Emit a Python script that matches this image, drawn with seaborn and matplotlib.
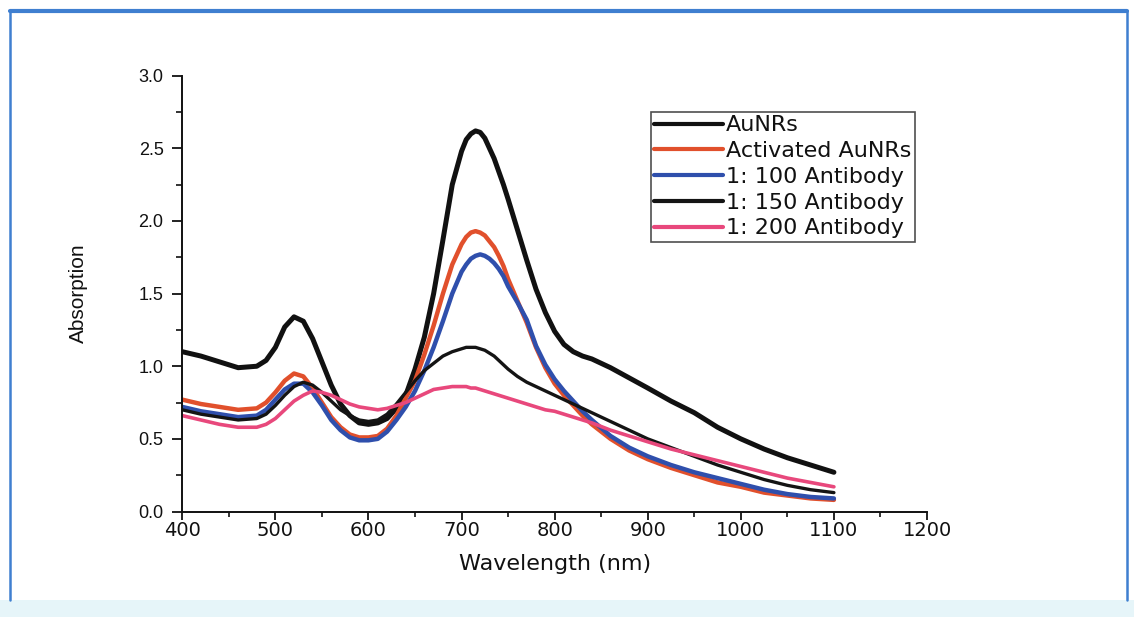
import matplotlib
matplotlib.use("Agg")
import matplotlib.pyplot as plt
from matplotlib.ticker import MultipleLocator
from matplotlib.patches import Rectangle
from matplotlib.lines import Line2D
import seaborn as sns
import pandas as pd

# ---- data ----
wavelength = [400, 420, 440, 460, 480, 490, 500, 510, 520, 530, 540, 550, 560, 570, 580, 590,
              600, 610, 620, 630, 640, 650, 660, 670, 680, 690, 700, 705, 710, 715, 720, 725,
              730, 735, 740, 745, 750, 760, 770, 780, 790, 800, 810, 820, 830, 840, 860, 880,
              900, 925, 950, 975, 1000, 1025, 1050, 1075, 1100]

aunrs = [1.10, 1.07, 1.03, 0.99, 1.00, 1.04, 1.13, 1.27, 1.34, 1.31, 1.19, 1.03, 0.87, 0.74, 0.66, 0.61,
         0.60, 0.61, 0.64, 0.71, 0.80, 0.98, 1.20, 1.50, 1.87, 2.25, 2.48, 2.56, 2.60, 2.62, 2.61, 2.57,
         2.50, 2.43, 2.34, 2.25, 2.15, 1.94, 1.73, 1.53, 1.37, 1.24, 1.15, 1.10, 1.07, 1.05, 0.99, 0.92,
         0.85, 0.76, 0.68, 0.58, 0.50, 0.43, 0.37, 0.32, 0.27]

activated = [0.77, 0.74, 0.72, 0.70, 0.71, 0.75, 0.82, 0.90, 0.95, 0.93, 0.85, 0.75, 0.65, 0.58, 0.53, 0.51,
             0.51, 0.52, 0.57, 0.66, 0.78, 0.90, 1.08, 1.28, 1.50, 1.70, 1.84, 1.89, 1.92, 1.93, 1.92, 1.90,
             1.86, 1.82, 1.76, 1.69, 1.60, 1.45, 1.30, 1.13, 0.99, 0.88, 0.80, 0.73, 0.66, 0.60, 0.50, 0.42,
             0.36, 0.30, 0.25, 0.20, 0.17, 0.13, 0.11, 0.09, 0.08]

ab_100 = [0.72, 0.69, 0.67, 0.65, 0.66, 0.70, 0.77, 0.84, 0.88, 0.88, 0.82, 0.73, 0.63, 0.56, 0.51, 0.49,
          0.49, 0.50, 0.55, 0.63, 0.72, 0.83, 0.97, 1.13, 1.31, 1.50, 1.65, 1.70, 1.74, 1.76, 1.77, 1.76,
          1.74, 1.71, 1.67, 1.62, 1.55, 1.44, 1.32, 1.14, 1.01, 0.91, 0.83, 0.76, 0.69, 0.63, 0.52, 0.44,
          0.38, 0.32, 0.27, 0.23, 0.19, 0.15, 0.12, 0.10, 0.09]

ab_150 = [0.70, 0.67, 0.65, 0.63, 0.64, 0.67, 0.73, 0.80, 0.86, 0.89, 0.87, 0.82, 0.76, 0.70, 0.66, 0.63,
          0.62, 0.63, 0.67, 0.74, 0.82, 0.90, 0.97, 1.02, 1.07, 1.10, 1.12, 1.13, 1.13, 1.13, 1.12, 1.11,
          1.09, 1.07, 1.04, 1.01, 0.98, 0.93, 0.89, 0.86, 0.83, 0.80, 0.77, 0.74, 0.71, 0.68, 0.62, 0.56,
          0.50, 0.44, 0.38, 0.32, 0.27, 0.22, 0.18, 0.15, 0.13]

ab_200 = [0.66, 0.63, 0.60, 0.58, 0.58, 0.60, 0.64, 0.70, 0.76, 0.80, 0.83, 0.82, 0.80, 0.77, 0.74, 0.72,
          0.71, 0.70, 0.71, 0.73, 0.75, 0.78, 0.81, 0.84, 0.85, 0.86, 0.86, 0.86, 0.85, 0.85, 0.84, 0.83,
          0.82, 0.81, 0.80, 0.79, 0.78, 0.76, 0.74, 0.72, 0.70, 0.69, 0.67, 0.65, 0.63, 0.61, 0.56, 0.52,
          0.48, 0.43, 0.39, 0.35, 0.31, 0.27, 0.23, 0.20, 0.17]

labels = ["AuNRs", "Activated AuNRs", "1: 100 Antibody", "1: 150 Antibody", "1: 200 Antibody"]
series = [aunrs, activated, ab_100, ab_150, ab_200]
colors = ["#111111", "#e1502c", "#2f4fac", "#141414", "#e8487c"]
widths = [3.6, 3.2, 3.2, 2.4, 2.6]

sns.set_style("ticks")
plt.rcParams["font.family"] = ["DejaVu Sans"]

fig, ax = plt.subplots(figsize=(11.34, 6.17), dpi=100)
fig.patch.set_facecolor("white")
ax.set_position([182.3 / 1134, 1 - 511.5 / 617, (927.0 - 182.3) / 1134, (511.5 - 75.7) / 617])

for lab, ys, c, w in zip(labels, series, colors, widths):
    df = pd.DataFrame({"Wavelength": wavelength, "Absorption": ys})
    sns.lineplot(data=df, x="Wavelength", y="Absorption", ax=ax, color=c,
                 linewidth=w, label=lab, legend=False)

ax.set_xlim(400, 1200)
ax.set_ylim(0, 3.0)
ax.set_xticks(range(400, 1201, 100))
ax.set_yticks([0.0, 0.5, 1.0, 1.5, 2.0, 2.5, 3.0])
ax.set_yticklabels(["0.0", "0.5", "1.0", "1.5", "2.0", "2.5", "3.0"])
ax.xaxis.set_minor_locator(MultipleLocator(50))
ax.yaxis.set_minor_locator(MultipleLocator(0.25))

for s in ["top", "right"]:
    ax.spines[s].set_visible(False)
for s in ["left", "bottom"]:
    ax.spines[s].set_linewidth(1.4)
    ax.spines[s].set_color("#111111")

ax.tick_params(axis="x", which="major", direction="out", length=6, width=1.3,
               labelsize=14, pad=1, colors="#111111")
ax.tick_params(axis="x", which="minor", direction="out", length=3.5, width=1.2, colors="#111111")
ax.tick_params(axis="y", which="major", direction="out", length=7.5, width=1.3,
               labelsize=13, pad=6, colors="#111111")
ax.tick_params(axis="y", which="minor", direction="out", length=4.5, width=1.2, colors="#111111")
for t in ax.get_yticklabels():
    t.set_fontfamily("Liberation Sans")

ax.set_xlabel("Wavelength (nm)", fontsize=16, labelpad=10, color="#111111")
ax.set_ylabel("Absorption", fontsize=15, family="Liberation Sans", labelpad=36, color="#111111")

handles = [Line2D([], [], color=c, linewidth=3.0) for c in colors]
leg = ax.legend(handles, labels, loc="upper left",
                bbox_to_anchor=(651 / 1134, 1 - 112 / 617), bbox_transform=fig.transFigure,
                borderaxespad=0, fontsize=16, frameon=True, fancybox=False,
                handlelength=3.1, handletextpad=0.12, labelspacing=0.26, borderpad=0.15)
leg.get_frame().set_edgecolor("#222222")
leg.get_frame().set_linewidth(1.2)
for t in leg.get_texts():
    t.set_color("#111111")

# decorative frame of the original figure
fig.add_artist(Rectangle((0, 0), 1, 17 / 617, transform=fig.transFigure,
                         facecolor="#e6f5f9", edgecolor="none", zorder=0))
fig.add_artist(Line2D([10 / 1134, 1127 / 1134], [1 - 11 / 617, 1 - 11 / 617],
                      transform=fig.transFigure, color="#3f7fd0", linewidth=3.0))
fig.add_artist(Line2D([10 / 1134, 10 / 1134], [1 - 11 / 617, 17 / 617],
                      transform=fig.transFigure, color="#3f7fd0", linewidth=1.8))
fig.add_artist(Line2D([1127 / 1134, 1127 / 1134], [1 - 11 / 617, 17 / 617],
                      transform=fig.transFigure, color="#3f7fd0", linewidth=1.8))

fig.savefig("out.png", dpi=100, facecolor="white")
